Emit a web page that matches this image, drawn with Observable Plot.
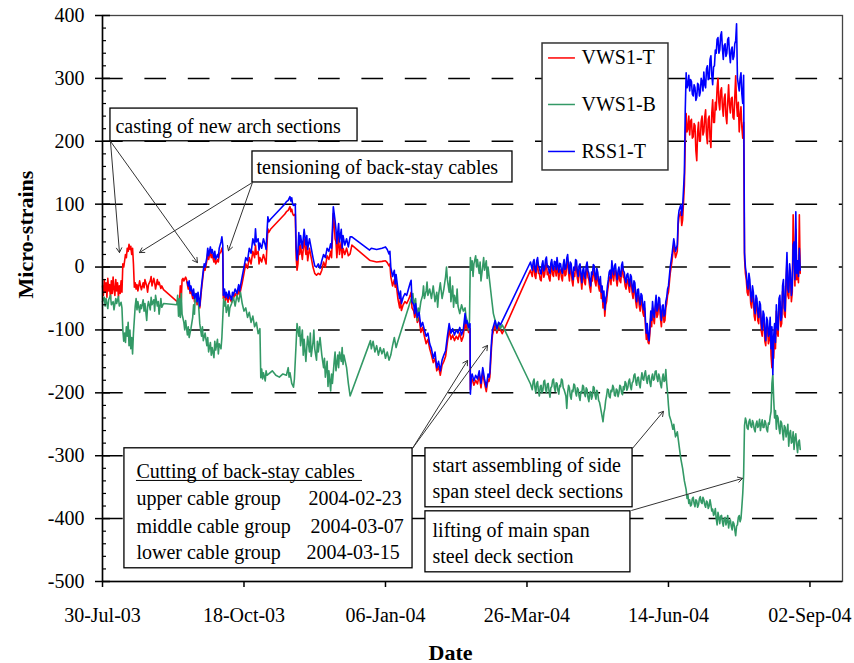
<!DOCTYPE html>
<html>
<head>
<meta charset="utf-8">
<script src="https://cdn.jsdelivr.net/npm/d3@7"></script>
<script src="https://cdn.jsdelivr.net/npm/@observablehq/plot@0.6"></script>
<style>
  html, body { margin: 0; padding: 0; background: #fff; }
  #chart svg { display: block; }
</style>
</head>
<body>
<div id="chart"></div>
<script>
// Strain records, [days since 2003-07-30, micro-strain]
const vws1t = [
[0,-30],[0.5,-45],[1,-20],[1.5,-40],[2,-25],[2.5,-48],[3,-18],[3.5,-38],[4,-28],[4.5,-50],[5,-22],[5.5,-42],[6,-16],[6.5,-35],[7,-45],[7.5,-20],[8,-38],[8.5,-25],[9,-48],[9.5,-30],[10,-42],[10.5,-22],[11,-40],[11.5,5],[12,0],[12.5,10],[13,20],[13.5,15],[14,30],[14.5,25],[15,36],[15.5,28],[16,33],[16.5,20],[17,30],[17.5,5],[18,-32],[18.5,-25],[19,-35],[19.5,-28],[20,-38],[21,-22],[21.5,-30],[22,-36],[23,-25],[23.5,-33],[24,-20],[25,-30],[25.5,-40],[26,-28],[27,-22],[27.5,-15],[28,-30],[29,-18],[29.5,-25],[30,-35],[31,-20],[31.5,-28],[32,-24],[33,-34],[33.5,-30],[34.5,-36],[43.5,-58],[44,-30],[44.5,-55],[45,-20],[45.5,-18],[46,-22],[47,-16],[47.5,-20],
[48,-28],[48.5,-35],[49,-28],[49.5,-42],[50,-35],[51,-50],[51.5,-40],[52,-55],[53,-48],[53.5,-60],[54,-45],[55,-65],[55.5,-50],[56,-35],[57,-10],[57.5,0],[58,-5],[59,10],[59.5,22],[60,12],[61,25],[61.5,15],[62,20],[63,8],[63.5,18],[64,5],[65,12],[65.5,8],[66,20],[67,25],[67.5,30],[68,20],[68.3,-50],[69,-40],[69.5,-53],[70,-45],[71,-56],[71.5,-44],[72,-50],[73,-56],[73.5,-46],[74,-50],[75,-42],[76,-48],[77,-35],[77.5,-44],[78,-38],[79,-25],[80,-10],[81,5],[82,-2],[83,15],[84,5],[85,25],[86,15],[86.5,35],[87,20],[88,25],[88.5,5],[89,15],[90,8],[91,20],[92,10],[92.5,5],[93,35],[93.5,61],[94,55],[95,60],[97,66],[99,72],[101,78],[103,84],[104,88],[105,90],[106,96],[106.5,88],[107,92],[107.5,85],[108,82],[109,84],[109.5,15],[110,-5],[110.5,5],[111,35],[111.5,20],[112,35],[113,12],[113.5,28],[114,45],[115,20],[115.5,35],[116,10],[117,30],[118,15],[119,0],[120,-10],[121,-13],[122,-10],[123,-12],[124,-5],[125,8],[126,0],[127,18],[128,12],[129,25],[129.5,15],[130,45],[130.5,85],[131,70],[131.5,45],[132,40],[132.5,15],[133,35],[133.5,50],[134,20],[135,40],[135.5,15],[136,30],[137,20],[138,30],[139,18],[140,21],[141,35],[151,11],[152,10],[155,8],[158,9],[160,10],[161,7],[162,2],[162.5,5],[163,-15],[164,-30],[165,-20],[165.5,-32],[166,-25],[167,-50],[168,-65],[168.5,-50],[169,-69],[170,-60],[171,-55],[172,-58],[173,-52],[174,-45],[174.5,-40],[175,-65],[176,-70],[176.5,-80],[177,-66],[178,-88],[179,-80],[180,-104],[181,-96],[182,-110],[183,-122],[184,-115],[185,-130],[186,-140],[187,-152],[188,-145],[189,-165],[190,-158],[191,-172],[192,-156],[193,-150],[194,-142],[195,-120],[196,-100],[197,-115],[198,-108],[199,-117],[200,-110],[201,-115],[202,-105],[203,-118],[204,-110],[205,-85],[205.5,-98],[206,-92],[207,-104],[207.8,-98],[208,-195],[208.5,-180],[209,-178],[210,-188],[211,-180],[212,-186],[213,-172],[214,-192],[215,-168],[216,-185],[217,-198],[218,-178],[218.5,-182],[219,-175],[219.5,-150],[220,-125],[220.5,-108],[221,-102],[222,-92],[223,-105],[224,-95],[225,-100],[226,-106],[242,-5],
[243,-15],[243.5,-2],[244,2],[244.5,-14],[245,-18],[245.5,0],[246,5],[246.5,-10],[247,-10],[247.5,-20],[248,-22],[248.5,-6],[249,0],[249.5,-16],[250,-12],[250.5,2],[251,6],[251.5,-12],[252,-8],[252.5,-18],[253,-22],[253.5,-4],[254,2],[254.5,-12],[255,-15],[255.5,-1],[256,-2],[256.5,-14],[257,5],[257.5,-8],[258,-20],[258.5,-4],[259,-5],[259.5,-16],[260,-22],[260.5,-6],[261,2],[261.5,-14],[262,-12],[262.5,4],[263,10],[263.5,-8],[264,-22],[264.5,-2],[265,-5],[265.5,-22],[266,-30],[266.5,-10],[267,-15],[267.5,2],[268,0],[268.5,-18],[269,-25],[269.5,-8],[270,-5],[270.5,-20],[271,-35],[271.5,-16],[272,-10],[272.5,-24],[273,-28],[273.5,-8],[274,-2],[274.5,-16],[275,-20],[275.5,-32],[276,-40],[276.5,-18],[277,-22],[277.5,-6],[278,-8],[278.5,-24],[279,-30],[279.5,-12],[280,-18],[280.5,-32],[281,-38],[281.5,-25],[282,-50],[282.5,-40],[283,-65],[283.5,-48],[284,-78],[284.5,-60],[285,-55],[285.5,-40],[286,-30],[286.5,-18],[287,-15],[287.5,-28],[288,0],[288.5,-14],[289,-22],[289.5,-8],[290,-5],[290.5,-20],[291,-30],[291.5,-16],[292,-10],[292.5,-22],[293,-25],[293.5,-7],[294,-2],[294.5,-16],[295,-18],[295.5,-30],[296,-35],[296.5,-22],[297,-20],[297.5,-32],[298,-40],[298.5,-22],[299,-25],[299.5,-42],[300,-50],[300.5,-32],[301,-35],[301.5,-55],[302,-65],[302.5,-46],[303,-45],[303.5,-62],[304,-70],[304.5,-52],[305,-55],[305.5,-72],[306,-78],[306.5,-65],[307,-95],[307.5,-115],[308,-100],[308.5,-120],[309,-122],[309.5,-105],[310,-80],[310.5,-95],[311,-65],[311.5,-82],[312,-90],[312.5,-70],[313,-55],[313.5,-80],[314,-75],[314.5,-58],[315,-60],[315.5,-82],[316,-95],[316.5,-72],[317,-70],[317.5,-88],[318,-85],[318.5,-65],[319,-58],[319.5,-45],[320,-40],[321,-10],[322,10],[323,35],[324,15],[325,25],[325.5,68],[326,80],[327,88],[327.5,66],[328,75],[329,130],[329.5,200],
[330,244],[330.5,215],[331,220],[331.5,240],[332,210],[332.5,232],[333,235],[333.5,205],[334,207],[334.5,228],[335,225],[335.5,185],[336,169],[336.5,215],[337,230],[337.5,200],[338,200],[338.5,232],[339,240],[339.5,210],[340,215],[340.5,238],[341,250],[341.5,210],[342,196],[342.5,235],[343,240],[343.5,205],[344,190],[344.5,245],[345,266],[345.5,230],[346,230],[346.5,262],[347,250],[347.5,285],[348,300],[348.5,262],[349,250],[349.5,280],[350,285],[350.5,255],[351,240],[351.5,268],[352,275],[352.5,240],[353,228],[353.5,262],[354,290],[354.5,258],[355,245],[355.5,268],[356,270],[356.5,238],[357,235],[357.5,270],[358,304],[358.5,260],[359,240],[359.5,262],[360,215],[360.5,240],[361,255],[361.5,222],[362,205],[362.5,230],
[363,15],[363.5,-10],[364,-20],[364.5,-40],[365,-45],[365.5,-22],[366,-30],[366.5,-58],[367,-65],[367.5,-40],[368,-50],[368.5,-78],[369,-85],[369.5,-55],[370,-60],[370.5,-85],[371,-90],[371.5,-65],[372,-70],[372.5,-102],[373,-110],[373.5,-80],[374,-85],[374.5,-118],[375,-125],[375.5,-90],[376,-95],[376.5,-122],[377,-115],[377.5,-92],[378,-140],[378.5,-160],[379,-120],[379.5,-145],[380,-100],[380.5,-130],[381,-70],[381.5,-105],[382,-110],[382.5,-62],[383,-55],[383.5,-95],[384,-90],[384.5,-40],[385,-30],[385.5,-75],[386,-80],[386.5,-25],[387,10],[387.5,-45],[388,-50],[388.5,-5],[389,-20],[389.5,-55],[390,-40],[390.5,83],[391,20],[391.5,-30],[392,60],[392.5,-20],[393,-5],[393.5,-25],[394,83],[394.5,-10]
];

const vws1b = [
[0,-55],[1,-48],[1.5,-62],[2,-50],[3,-66],[3.5,-52],[4.5,-45],[5,-60],[6,-55],[6.5,-68],[7.5,-50],[8,-58],[9,-47],[9.5,-62],[10.5,-56],[11,-65],[11.5,-100],[12,-118],[12.5,-105],[13,-120],[13.5,-95],[14,-110],[14.5,-88],[15,-125],[15.5,-100],[16,-130],[16.5,-112],[17,-138],[17.5,-105],[18.5,-62],[19,-50],[19.5,-68],[20,-55],[21,-72],[21.5,-60],[22,-66],[23,-52],[23.5,-70],[24,-58],[25,-85],[25.5,-62],[26,-55],[27,-68],[27.5,-48],[28,-60],[29,-52],[29.5,-70],[30,-45],[31,-62],[31.5,-55],[32,-75],[33,-50],[33.5,-64],[34.5,-58],[42,-60],[42.5,-45],[43,-78],[43.5,-50],[44,-80],[44.5,-42],[45,-75],[46,-88],[46.5,-100],[47,-85],[48,-108],[48.5,-95],[49,-112],[50,-98],[51,-80],[51.5,-60],[52,-75],[52.5,-42],[53,-55],[54,-45],[54.5,-68],[55,-90],[56,-110],[56.5,-95],[57,-117],[58,-105],[59,-125],[59.5,-112],[60,-135],[61,-120],[61.5,-140],[62,-128],[63,-144],[63.5,-118],[64,-132],[65,-115],[65.5,-138],[66,-122],[67,-130],[67.5,-112],[68.5,-50],[69,-62],[69.5,-55],[70,-72],[71,-60],[71.5,-78],[72,-65],[73,-58],[74,-48],[75,-62],[76,-45],[77,-55],[78,-40],[79,-58],[80,-70],[81,-65],[82,-80],[83,-72],[84,-88],[85,-78],[86,-95],[87,-88],[88,-106],[89,-98],[89.5,-176],[90,-162],[90.5,-178],[91,-168],[92,-181],[92.5,-165],[93,-172],[94,-170],[96,-165],[98,-172],[100,-175],[102,-170],[104,-172],[105,-160],[105.5,-175],[106,-168],[107,-185],[108,-191],[108.5,-178],[109.5,-120],[110,-90],[111,-110],[111.5,-95],[112,-125],[113,-100],[113.5,-140],[114,-115],[115,-150],[115.5,-128],[116,-110],[117,-135],[117.5,-105],[118,-142],[119,-120],[119.5,-100],[120,-130],[121,-148],[121.5,-118],[122,-135],[123,-112],[124,-140],[125,-160],[125.5,-145],[126,-175],[127,-150],[127.5,-190],[128,-165],[129,-197],[129.5,-170],[130,-185],[131,-150],[131.5,-135],[132,-165],[133,-140],[133.5,-160],[134,-135],[135,-150],[135.5,-128],[136,-155],[136.5,-140],[138,-160],[139,-185],[140,-205],[151.5,-117],[152,-130],[153,-118],[154,-135],[155,-125],[156,-140],[157,-128],[158,-138],[159,-130],[160,-145],[161,-135],[162,-148],[163,-140],[164,-125],[165,-112],[166,-128],[167,-118],[175.5,-42],[176,-60],[177,-50],[178,-85],[178.5,-65],[179,-75],[180,-55],[181,-45],[181.5,-30],[182,-50],[183,-38],[183.5,-24],[184,-45],[185,-35],[186,-50],[187,-30],[188,-55],[189,-40],[189.5,-64],[190,-45],[191,-25],[192,-50],[193,-35],[194,-15],[194.5,0],[195,-20],[196,-40],[196.5,-16],[197,-55],[198,-30],[198.5,-64],[199,-45],[200,-58],[200.5,-35],[201,-62],[202,-74],[203,-60],[204,-70],[205,-65],[205.5,-78],[206.5,-90],[207,-100],[207.5,-85],[208,15],[208.5,-5],[209,10],[209.5,-15],[210,5],[211,18],[211.5,0],[212,12],[213,-10],[213.5,8],[214,-22],[215,2],[215.5,15],[216,-5],[217,10],[217.5,-18],[218,0],[219,-25],[220,-50],[221,-74],[222,-85],[223,-100],[224,-88],[225,-98],[226,-92],[242,-186],
[243,-195],[243.5,-182],[244,-178],[244.5,-192],[245,-200],[245.5,-185],[246,-182],[246.5,-198],[247,-205],[247.5,-190],[248,-188],[248.5,-200],[249,-196],[249.5,-182],[250,-180],[250.5,-194],[251,-200],[251.5,-186],[252,-185],[252.5,-198],[253,-207],[253.5,-192],[254,-190],[254.5,-180],[255,-178],[255.5,-192],[256,-198],[256.5,-184],[257,-185],[257.5,-196],[258,-202],[258.5,-188],[259,-190],[259.5,-178],[260,-180],[260.5,-192],[261,-195],[261.5,-200],[262,-205],[262.5,-225],[263,-200],[263.5,-188],[264,-192],[264.5,-205],[265,-210],[265.5,-196],[266,-198],[266.5,-186],[267,-188],[267.5,-200],[268,-205],[268.5,-192],[269,-195],[269.5,-206],[270,-212],[270.5,-198],[271,-200],[271.5,-188],[272,-190],[272.5,-202],[273,-206],[273.5,-192],[274,-195],[274.5,-208],[275,-214],[275.5,-200],[276,-198],[276.5,-210],[277,-205],[277.5,-190],[278,-192],[278.5,-204],[279,-210],[279.5,-196],[280,-200],[280.5,-212],[281,-215],[281.5,-222],[282,-230],[282.5,-238],[283,-246],[283.5,-232],[284,-225],[284.5,-212],[285,-205],[285.5,-194],[286,-195],[286.5,-206],[287,-208],[287.5,-196],[288,-198],[288.5,-188],[289,-192],[289.5,-204],[290,-205],[290.5,-194],[291,-196],[291.5,-206],[292,-200],[292.5,-188],[293,-190],[293.5,-200],[294,-203],[294.5,-190],[295,-195],[295.5,-182],[296,-185],[296.5,-196],[297,-192],[297.5,-182],[298,-178],[298.5,-190],[299,-195],[299.5,-184],[300,-182],[300.5,-172],[301,-170],[301.5,-182],[302,-188],[302.5,-176],[303,-175],[303.5,-186],[304,-192],[304.5,-178],[305,-168],[305.5,-178],[306,-180],[306.5,-170],[307,-165],[307.5,-178],[308,-185],[308.5,-174],[309,-172],[309.5,-184],[310,-190],[310.5,-176],[311,-170],[311.5,-180],[312,-178],[312.5,-166],[313,-165],[313.5,-176],[314,-182],[314.5,-170],[315,-175],[315.5,-186],[316,-192],[316.5,-178],[317,-170],[317.5,-182],[318,-180],[318.5,-163],[319,-185],[319.5,-200],[320,-220],[320.5,-236],[321.5,-245],[322.5,-258],[323,-250],[324,-270],[325,-262],[326,-284],[327,-305],[328,-320],[329,-340],
[330,-354],[330.5,-368],[331,-362],[331.5,-376],[332,-370],[332.5,-380],[333,-378],[333.5,-368],[334,-366],[334.5,-376],[335,-381],[335.5,-370],[336,-372],[336.5,-382],[337,-378],[337.5,-368],[338,-365],[338.5,-374],[339,-376],[339.5,-366],[340,-370],[340.5,-378],[341,-382],[341.5,-372],[342,-374],[342.5,-384],[343,-380],[343.5,-370],[344,-378],[344.5,-388],[345,-385],[345.5,-395],[346,-392],[346.5,-384],[347,-400],[347.5,-410],[348,-390],[348.5,-398],[349,-408],[349.5,-396],[350,-395],[350.5,-405],[351,-412],[351.5,-400],[352,-398],[352.5,-410],[353,-405],[353.5,-395],[354,-415],[354.5,-405],[355,-402],[355.5,-412],[356,-418],[356.5,-405],[357,-408],[357.5,-418],[358,-427],[358.5,-412],[359,-410],[359.5,-398],[360,-395],[360.5,-405],[361,-400],[361.5,-381],[362,-360],[362.5,-330],[363,-252],
[363.5,-240],[364,-245],[364.5,-256],[365,-258],[365.5,-246],[366,-242],[366.5,-252],[367,-255],[367.5,-244],[368,-248],[368.5,-258],[369,-262],[369.5,-250],[370,-245],[370.5,-255],[371,-252],[371.5,-242],[372,-260],[372.5,-250],[373,-243],[373.5,-255],[374,-255],[374.5,-244],[375,-248],[375.5,-258],[376,-262],[376.5,-248],[377,-250],[377.5,-238],[378,-230],[378.5,-185],[379,-171],[379.5,-210],[380,-240],[380.5,-228],[381,-258],[381.5,-236],[382,-240],[382.5,-256],[383,-265],[383.5,-245],[384,-248],[384.5,-262],[385,-275],[385.5,-252],[386,-255],[386.5,-270],[387,-262],[387.5,-250],[388,-285],[388.5,-265],[389,-260],[389.5,-280],[390,-278],[390.5,-262],[391,-290],[391.5,-272],[392,-265],[392.5,-282],[393,-295],[393.5,-278],[394,-275],[394.5,-290]
];

const rss1t = [
[48,-24],[48.5,-30],[49,-22],[49.5,-38],[50,-30],[51,-45],[51.5,-35],[52,-50],[53,-42],[53.5,-55],[54,-40],[55,-62],[55.5,-45],[56,-30],[57,-5],[57.5,5],[58,0],[59,15],[59.5,30],[60,18],[61,32],[61.5,22],[62,28],[63,15],[63.5,25],[64,12],[65,20],[65.5,15],[66,30],[67,40],[67.5,48],[68,35],[68.3,-45],[69,-35],[69.5,-48],[70,-40],[71,-50],[71.5,-38],[72,-45],[73,-52],[73.5,-40],[74,-45],[75,-35],[76,-42],[77,-28],[77.5,-38],[78,-30],[79,-15],[80,0],[81,15],[82,10],[83,30],[84,22],[85,45],[86,35],[86.5,61],[87,40],[88,45],[88.5,27],[89,38],[90,30],[91,45],[92,35],[92.5,28],[93,55],[93.5,80],[94,72],[95,76],[97,82],[99,88],[101,94],[103,100],[104,104],[105,106],[106,112],[106.5,105],[107,110],[107.5,100],[108,98],[109,100],[109.5,30],[110,11],[110.5,25],[111,55],[111.5,35],[112,50],[113,30],[113.5,45],[114,60],[115,35],[115.5,50],[116,28],[117,45],[118,30],[119,15],[120,2],[121,0],[122,5],[123,-2],[124,10],[125,20],[126,15],[127,30],[128,25],[129,37],[129.5,30],[130,60],[130.5,96],[131,85],[131.5,74],[132,60],[132.5,37],[133,55],[133.5,69],[134,40],[135,60],[135.5,30],[136,50],[137,35],[138,45],[139,32],[140,48],[141,48],[151,27],[152,30],[155,28],[158,30],[160,32],[161,28],[162,21],[162.5,25],[163,0],[164,-15],[165,-5],[165.5,-27],[166,-12],[167,-35],[168,-50],[168.5,-38],[169,-58],[170,-48],[171,-42],[172,-45],[173,-35],[174,-25],[174.5,-21],[175,-55],[176,-60],[176.5,-74],[177,-58],[178,-80],[179,-72],[180,-95],[181,-88],[182,-100],[183,-110],[184,-105],[185,-122],[186,-130],[187,-145],[188,-135],[189,-160],[190,-150],[191,-165],[192,-148],[193,-140],[194,-133],[195,-110],[196,-90],[197,-105],[198,-98],[199,-108],[200,-100],[201,-105],[202,-96],[203,-108],[204,-100],[205,-74],[205.5,-90],[206,-85],[207,-96],[207.8,-90],[208,-202],[208.5,-175],[209,-170],[210,-181],[211,-172],[212,-178],[213,-165],[214,-185],[215,-160],[216,-178],[217,-191],[218,-170],[218.5,-175],[219,-168],[219.5,-140],[220,-117],[220.5,-100],[221,-95],[222,-85],[223,-98],[224,-88],[225,-92],[242,8],
[243,-5],[243.5,8],[244,12],[244.5,-3],[245,-8],[245.5,10],[246,15],[246.5,2],[247,0],[247.5,-9],[248,-11],[248.5,4],[249,10],[249.5,-6],[250,-3],[250.5,12],[251,16],[251.5,0],[252,2],[252.5,-7],[253,-10],[253.5,6],[254,12],[254.5,-2],[255,-5],[255.5,9],[256,8],[256.5,-4],[257,15],[257.5,3],[258,-8],[258.5,6],[259,5],[259.5,-6],[260,-10],[260.5,4],[261,12],[261.5,-4],[262,-2],[262.5,14],[263,20],[263.5,2],[264,-10],[264.5,8],[265,5],[265.5,-12],[266,-20],[266.5,0],[267,-5],[267.5,12],[268,10],[268.5,-8],[269,-15],[269.5,2],[270,5],[270.5,-10],[271,-25],[271.5,-6],[272,0],[272.5,-14],[273,-18],[273.5,2],[274,8],[274.5,-6],[275,-10],[275.5,-22],[276,-30],[276.5,-8],[277,-12],[277.5,4],[278,2],[278.5,-14],[279,-20],[279.5,-2],[280,-8],[280.5,-22],[281,-28],[281.5,-15],[282,-40],[282.5,-30],[283,-55],[283.5,-38],[284,-68],[284.5,-50],[285,-45],[285.5,-30],[286,-20],[286.5,-8],[287,-5],[287.5,-18],[288,10],[288.5,-4],[289,-12],[289.5,2],[290,5],[290.5,-10],[291,-20],[291.5,-6],[292,0],[292.5,-12],[293,-15],[293.5,3],[294,8],[294.5,-6],[295,-8],[295.5,-20],[296,-25],[296.5,-12],[297,-10],[297.5,-22],[298,-30],[298.5,-12],[299,-15],[299.5,-32],[300,-40],[300.5,-22],[301,-25],[301.5,-45],[302,-55],[302.5,-36],[303,-35],[303.5,-52],[304,-60],[304.5,-42],[305,-45],[305.5,-62],[306,-68],[306.5,-55],[307,-85],[307.5,-105],[308,-90],[308.5,-110],[309,-117],[309.5,-95],[310,-70],[310.5,-85],[311,-55],[311.5,-72],[312,-80],[312.5,-60],[313,-45],[313.5,-70],[314,-65],[314.5,-48],[315,-50],[315.5,-72],[316,-85],[316.5,-62],[317,-60],[317.5,-78],[318,-75],[318.5,-55],[319,-48],[319.5,-35],[320,-30],[321,0],[322,20],[323,45],[324,25],[325,35],[325.5,78],[326,90],[327,99],[327.5,82],[328,95],[329,150],[329.5,250],
[330,309],[330.5,285],[331,290],[331.5,305],[332,280],[332.5,298],[333,295],[333.5,275],[334,272],[334.5,290],[335,285],[335.5,265],[336,270],[336.5,292],[337,290],[337.5,272],[338,278],[338.5,300],[339,295],[339.5,280],[340,310],[340.5,290],[341,285],[341.5,315],[342,320],[342.5,298],[343,300],[343.5,330],[344,336],[344.5,305],[345,290],[345.5,318],[346,320],[346.5,345],[347,340],[347.5,362],[348,365],[348.5,340],[349,345],[349.5,368],[350,374],[350.5,348],[351,330],[351.5,352],[352,355],[352.5,335],[353,340],[353.5,362],[354,365],[354.5,340],[355,325],[355.5,345],[356,350],[356.5,330],[357,335],[357.5,355],[358,360],[358.5,387],[359,300],[359.5,290],[360,280],[360.5,300],[361,309],[361.5,275],[362,260],[362.5,305],
[363,23],[363.5,0],[364,-10],[364.5,-28],[365,-35],[365.5,-10],[366,-20],[366.5,-45],[367,-55],[367.5,-30],[368,-40],[368.5,-65],[369,-74],[369.5,-45],[370,-50],[370.5,-72],[371,-80],[371.5,-55],[372,-60],[372.5,-90],[373,-100],[373.5,-70],[374,-75],[374.5,-105],[375,-117],[375.5,-80],[376,-85],[376.5,-110],[377,-105],[377.5,-80],[378,-130],[378.5,-95],[379,-171],[379.5,-110],[380,-90],[380.5,-120],[381,-60],[381.5,-95],[382,-100],[382.5,-50],[383,-45],[383.5,-85],[384,-80],[384.5,-30],[385,-20],[385.5,-65],[386,-70],[386.5,-15],[387,23],[387.5,-35],[388,-40],[388.5,5],[389,-10],[389.5,-45],[390,-30],[390.5,35],[391,40],[391.5,-20],[392,88],[392.5,-10],[393,10],[393.5,-15],[394,30],[394.5,-5]
];

const seriesNames = ["VWS1-T", "VWS1-B", "RSS1-T"];
const seriesColors = ["#ff0000", "#339966", "#0000ff"];
const xTickDates = ["2003-07-30", "2003-10-18", "2004-01-06", "2004-03-26", "2004-06-14", "2004-09-02"];
const yTicks = [-500, -400, -300, -200, -100, 0, 100, 200, 300, 400];
const cutGroups = ["upper cable group", "middle cable group", "lower cable group"];
const cutDates = ["2004-02-23", "2004-03-07", "2004-03-15"];

const start = new Date(Date.UTC(2003, 6, 30));
const day = d => new Date(start.getTime() + d * 864e5);
const toRows = (arr, name) => arr.map(([d, v]) => ({date: day(d), value: v, series: name}));

const minorTicks = d3.range(-500, 401, 20).filter(v => v % 100 !== 0);
const gridTicks = yTicks.filter(v => v > -500 && v < 400);

// annotation boxes, in (days, micro-strain)
const boxes = [
  {d1: 4.5, d2: 144.2, v1: 200, v2: 252},
  {d1: 84.8, d2: 231.8, v1: 134.5, v2: 183.8},
  {d1: 12.4, d2: 175.3, v1: -479, v2: -288.2},
  {d1: 182.6, d2: 299.7, v1: -382, v2: -288.2},
  {d1: 182.6, d2: 298.5, v1: -485.4, v2: -388.4}
];
const notes = [
  {d: 7.3, v: 212.4, t: "casting of new arch sections"},
  {d: 87.1, v: 148, t: "tensioning of back-stay cables"},
  {d: 19.2, v: -335, t: "Cutting of back-stay cables"},
  {d: 186.6, v: -367.9, t: "start assembling of side\nspan steel deck sections"},
  {d: 186.6, v: -470.8, t: "lifting of main span\nsteel deck section"}
];
const cutRowsV = [-379.1, -422.5, -465];
const cutDateD = [116.5, 117.6, 115.3];
const leaders = [
  {d1: 4.5, v1: 200, d2: 9.6, v2: 23},
  {d1: 4.5, v1: 200, d2: 53.7, v2: 7},
  {d1: 84.8, v1: 134.5, d2: 20.9, v2: 23},
  {d1: 84.8, v1: 134.5, d2: 71.2, v2: 26},
  {d1: 175.3, v1: -288.2, d2: 206.4, v2: -148.5},
  {d1: 175.3, v1: -288.2, d2: 217.7, v2: -124.6},
  {d1: 299.7, v1: -288.2, d2: 317.2, v2: -229.4},
  {d1: 299.2, v1: -387, d2: 361.9, v2: -336}
];
const legendRowV = [332.5, 258.5, 183.8];

const font = "Liberation Serif, Times New Roman, serif";

const chart = Plot.plot({
  width: 854,
  height: 663,
  marginLeft: 102,
  marginRight: 12,
  marginTop: 15,
  marginBottom: 82,
  style: {fontFamily: font, fontSize: "20px", color: "black", background: "white"},
  x: {type: "utc", domain: [start, day(418.4)]},
  y: {domain: [-500, 400]},
  marks: [
    Plot.gridY(gridTicks, {stroke: "black", strokeOpacity: 1, strokeWidth: 1.5, strokeDasharray: "21.7,21.7", strokeDashoffset: 1}),
    Plot.line(toRows(vws1t, seriesNames[0]), {x: "date", y: "value", stroke: seriesColors[0], strokeWidth: 1.6}),
    Plot.line(toRows(vws1b, seriesNames[1]), {x: "date", y: "value", stroke: seriesColors[1], strokeWidth: 1.6}),
    Plot.line(toRows(rss1t, seriesNames[2]), {x: "date", y: "value", stroke: seriesColors[2], strokeWidth: 1.6}),
    Plot.frame({stroke: "#444", strokeWidth: 1.3}),
    Plot.ruleX([start], {stroke: "black", strokeWidth: 1.5}),
    Plot.ruleY([-500], {stroke: "black", strokeWidth: 1.5}),
    Plot.axisY(yTicks, {tickSize: 7, tickPadding: 11, tickFormat: d => String(d), fontSize: 20, label: null, strokeWidth: 1.5}),
    Plot.axisY(yTicks, {tickSize: -8, tickFormat: () => "", label: null, strokeWidth: 1.5}),
    Plot.axisY(minorTicks, {tickSize: -4, tickFormat: () => "", label: null, strokeWidth: 1.2}),
    Plot.axisX(xTickDates.map(s => new Date(s)), {tickSize: 6, tickPadding: 20, tickFormat: d3.utcFormat("%d-%b-%y"), fontSize: 20, label: null, strokeWidth: 1.5}),
    Plot.text(["Micro-strains"], {frameAnchor: "left", rotate: -90, dx: -77, fontSize: 22, fontWeight: "bold"}),
    Plot.text(["Date"], {frameAnchor: "bottom", lineAnchor: "bottom", dx: -22, dy: 78, fontSize: 22, fontWeight: "bold"}),
    // annotations
    Plot.rect(boxes, {x1: d => day(d.d1), x2: d => day(d.d2), y1: "v1", y2: "v2", fill: "white", stroke: "black", strokeWidth: 1.3}),
    Plot.text(notes, {x: d => day(d.d), y: "v", text: "t", textAnchor: "start", lineAnchor: "bottom", lineHeight: 1.32, fontSize: 20}),
    Plot.ruleY([-339.3], {x1: day(19.2), x2: day(147), stroke: "black", strokeWidth: 1}),
    Plot.text(cutGroups, {x: day(19.2), y: (d, i) => cutRowsV[i], textAnchor: "start", lineAnchor: "bottom", fontSize: 20}),
    Plot.text(cutDates, {x: (d, i) => day(cutDateD[i]), y: (d, i) => cutRowsV[i], textAnchor: "start", lineAnchor: "bottom", fontSize: 20}),
    Plot.arrow(leaders, {x1: d => day(d.d1), y1: "v1", x2: d => day(d.d2), y2: "v2", stroke: "#333", strokeWidth: 1, headLength: 8}),
    // legend
    Plot.rect([0], {x1: day(248.8), x2: day(320), y1: 153.6, y2: 355.5, fill: "white", stroke: "#333", strokeWidth: 1.5}),
    Plot.ruleY(seriesNames, {y: (d, i) => legendRowV[i], x1: day(252.2), x2: day(267.4), stroke: (d, i) => seriesColors[i], strokeWidth: 1.5}),
    Plot.text(seriesNames, {x: day(270.8), y: (d, i) => legendRowV[i], textAnchor: "start", fontSize: 20})
  ]
});

document.getElementById("chart").appendChild(chart);
</script>
</body>
</html>
